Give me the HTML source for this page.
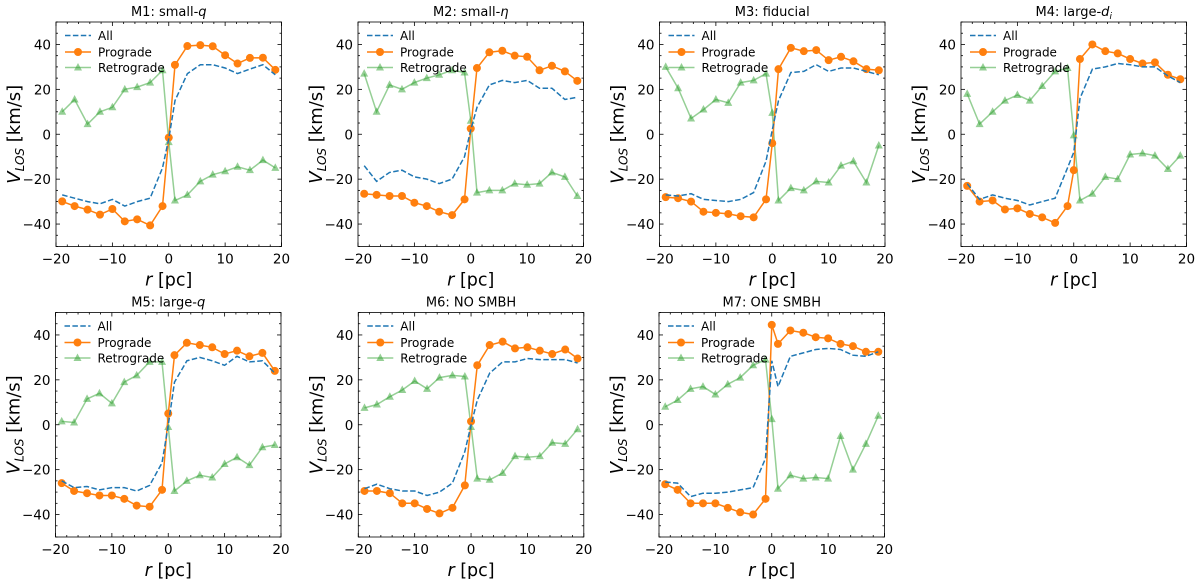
<!DOCTYPE html>
<html><head><meta charset="utf-8"><style>
html,body{margin:0;padding:0;background:#fff;}
svg{display:block;font-family:"DejaVu Sans","Liberation Sans",sans-serif;}
</style></head><body>
<svg id="fig" width="1200" height="579" viewBox="0 0 1200 579"></svg>
<script>
const xs = [-18.9,-16.7,-14.4,-12.2,-10,-7.8,-5.6,-3.3,-1.1,0,1.1,3.3,5.6,7.8,10,12.2,14.4,16.7,18.9];
const titles = ["M1: small-","M2: small-","M3: fiducial","M4: large-","M5: large-","M6: NO SMBH","M7: ONE SMBH"];
const titleItalic = ["q","η","","d","q","",""];
const allM1 = [-27,-28.5,-30,-31,-29,-32,-30,-28.5,-15,-2,15,27,31,31,29.5,27,29,31,26.5];
const proM1 = [-29.9,-32,-33.6,-35.8,-33.3,-38.8,-37.9,-40.6,-32,-1.5,30.9,39.3,39.7,39.2,35.2,31.5,34,34.1,28.7];
const retM1 = [10,15.5,4.5,10,12,20,21,23,28.5,-3.5,-29.5,-27,-21,-18,-16.5,-14.5,-16,-11.5,-15];
const allM2 = [-14,-21,-17,-16,-19,-20,-22,-20,-10,2,12,22,24,23,24,20.5,20.5,15.5,16.5];
const proM2 = [-26.5,-27,-27.5,-27.5,-30.5,-32,-34.5,-36,-29,2.5,29.5,36.5,37.2,35,34.5,28.5,30.5,28,23.8];
const retM2 = [27,10,22,20,23,25,26.5,28.5,27.5,6,-26,-25,-25,-22,-22.5,-22,-17,-19,-27.5];
const allM3 = [-27,-27.5,-26.5,-29,-29.5,-30,-29,-26,-12,2,15,27.5,28,31,28,29.5,29.5,28,26.5];
const proM3 = [-28,-28.5,-30,-34.5,-35,-35.5,-36.5,-37,-29,-4,29,38.5,37,37.5,33,34.5,32.5,29,28.5];
const retM3 = [30,20.5,7,11,15.5,14,23,24,27,9.5,-29.5,-24,-25,-21,-21.5,-14,-12,-21.5,-5];
const allM4 = [-22,-29,-27,-28.5,-29.5,-31.5,-30,-28.5,-15,-8,16,29,30,31.5,31,30,30,26,23];
const proM4 = [-23,-30,-29.5,-33.5,-33,-35.5,-37,-39.5,-32,-16,33.5,40,37,36,33.5,31.5,32,26.5,24.5];
const retM4 = [18,4.5,10,15,17.5,15,21.5,28,29.5,-0.5,-29.5,-26.5,-19,-20,-9,-8.5,-9.5,-15.5,-9.5];
const allM5 = [-25,-28,-27.5,-29,-28,-28,-29.5,-27,-17,0,19,28.5,30,28.5,26.5,30.5,28,28.5,23];
const proM5 = [-26,-29.5,-30.5,-31.5,-31.5,-33,-36,-36.5,-29,5,31,36.5,35.5,34.5,31.5,33,30.5,32,24];
const retM5 = [1.5,1,11.5,14,9.5,19,22,28,28,-1,-29.5,-25,-22.5,-23.5,-17.5,-14.5,-18,-10,-9];
const allM6 = [-28.5,-26.5,-28.5,-29.5,-29.5,-31.5,-30,-26,-12,0,11,23,28,28,29.5,29,29,29,27.5];
const proM6 = [-29.5,-29.5,-30.5,-35,-35,-37.5,-39.5,-37,-27,1.5,26.5,35.5,37,34,34.5,33,31.5,33.5,29.5];
const retM6 = [7.5,9,12.5,15.5,19.5,16,21,22,21.5,-1,-24,-24.5,-21.5,-14,-14.5,-14,-8,-8.5,-2];
const allM7 = [-25.5,-26,-32,-30.5,-30.5,-30,-29,-28,-15,28.5,17,30.5,32,33.5,34,33.5,31,30.5,32.5];
const proM7 = [-26.5,-29,-35,-35,-35,-37,-39,-40,-33,44.5,36,42,41,39,38.5,36,35,32.5,32.5];
const retM7 = [8,11,16,17,13.5,18,21,26.5,29,2.5,-28.5,-22.5,-24,-23.5,-24,-5,-20,-8.5,4];
const xTicks = [-20,-10,0,10,20];
const yTicks = [-40,-20,0,20,40];

const allS=[allM1,allM2,allM3,allM4,allM5,allM6,allM7];
const proS=[proM1,proM2,proM3,proM4,proM5,proM6,proM7];
const retS=[retM1,retM2,retM3,retM4,retM5,retM6,retM7];
const lefts=[56,358,659.5,961,55.5,358.3,659];
const tops=[22,22,22,22,312.5,312.5,312.5];
const W=225.5,H=224.5;
const NS="http://www.w3.org/2000/svg";
const svg=document.getElementById('fig');
function mk(t,a,p){const e=document.createElementNS(NS,t);for(const k in a)e.setAttribute(k,a[k]);(p||svg).appendChild(e);return e;}

for(let i=0;i<7;i++){
  const L=lefts[i],T=tops[i];
  const g=mk('g',{});
  
  
  const sx=v=>L+(v+20)/40*W, sy=v=>T+(50-v)/100*H;
  const tk=mk('g',{stroke:'#000','stroke-width':0.8},g);
  
  
  for(let v=-20;v<=20;v+=2){const len=(v%10===0)?4:2;const x=sx(v);
    mk('line',{x1:x,x2:x,y1:T+H,y2:T+H-len},tk);mk('line',{x1:x,x2:x,y1:T,y2:T+len},tk);}
  for(let v=-50;v<=50;v+=5){const len=(v%20===0)?4:2;const y=sy(v);
    mk('line',{x1:L,x2:L+len,y1:y,y2:y},tk);mk('line',{x1:L+W,x2:L+W-len,y1:y,y2:y},tk);}
  xTicks.forEach(v=>{const t=mk('text',{x:sx(v),y:T+H+17,'text-anchor':'middle','font-size':13.5},g);t.textContent=(v<0?'−':'')+Math.abs(v);
    });
  yTicks.forEach(v=>{const t=mk('text',{x:L-5,y:sy(v)+5,'text-anchor':'end','font-size':13.5},g);t.textContent=(v<0?'−':'')+Math.abs(v);
    });
  const xl=mk('text',{x:L+W/2,y:T+H+39,'text-anchor':'middle','font-size':17.5},g);
  xl.innerHTML='<tspan font-style="italic">r</tspan> [pc]';
  
  const yl=mk('text',{x:0,y:0,'text-anchor':'middle','font-size':18,transform:`translate(${L-36},${T+H/2}) rotate(-90)`},g);
  yl.innerHTML='<tspan font-style="italic">V</tspan><tspan font-style="italic" font-size="12" dy="4">LOS</tspan><tspan dy="-4"> [km/s]</tspan>';
  
  const tt=mk('text',{x:L+W/2,y:T-6,'text-anchor':'middle','font-size':13},g);
  tt.textContent=titles[i];
  if(titleItalic[i]){const s=mk('tspan',{'font-style':'italic'},tt);s.textContent=titleItalic[i];
    if(i===3){const s2=mk('tspan',{'font-style':'italic','font-size':9,dy:3},tt);s2.textContent='i';}}
  
  const ptsOf=a=>a.map((v,k)=>sx(xs[k]).toFixed(1)+','+sy(v).toFixed(1)).join(' ');
  const ret=mk('g',{},g);
  
  mk('polyline',{points:ptsOf(retS[i]),fill:'none',stroke:'#2ca02c','stroke-opacity':0.5,'stroke-width':1.5},ret);
  retS[i].forEach((v,k)=>{const x=sx(xs[k]),y=sy(v);
    const m=mk('polygon',{points:`${x},${y-4.5} ${x-4},${y+3} ${x+4},${y+3}`,fill:'#2ca02c','fill-opacity':0.5},ret);
    });
  const pro=mk('g',{},g);
  
  mk('polyline',{points:ptsOf(proS[i]),fill:'none',stroke:'#ff7f0e','stroke-width':1.5},pro);
  proS[i].forEach((v,k)=>{const m=mk('circle',{cx:sx(xs[k]),cy:sy(v),r:4,fill:'#ff7f0e'},pro);
    });
  const al=mk('polyline',{points:ptsOf(allS[i]),fill:'none',stroke:'#1f77b4','stroke-width':1.5,'stroke-dasharray':'5.5,2.4'},g);
  
  mk('rect',{x:L,y:T,width:W,height:H,fill:'none',stroke:'#000','stroke-width':0.8},g);
  const lg=mk('g',{},g);
  
  const lx=L+9,ly=[T+13.5,T+30,T+45.5];
  mk('line',{x1:lx,x2:lx+26,y1:ly[0],y2:ly[0],stroke:'#1f77b4','stroke-width':1.5,'stroke-dasharray':'5.5,2.4'},lg);
  mk('line',{x1:lx,x2:lx+26,y1:ly[1],y2:ly[1],stroke:'#ff7f0e','stroke-width':1.5},lg);
  mk('circle',{cx:lx+13,cy:ly[1],r:4,fill:'#ff7f0e'},lg);
  mk('line',{x1:lx,x2:lx+26,y1:ly[2],y2:ly[2],stroke:'#2ca02c','stroke-opacity':0.5,'stroke-width':1.5},lg);
  mk('polygon',{points:`${lx+13},${ly[2]-4.5} ${lx+9},${ly[2]+3} ${lx+17},${ly[2]+3}`,fill:'#2ca02c','fill-opacity':0.5},lg);
  ['All','Prograde','Retrograde'].forEach((s,k)=>{const t=mk('text',{x:lx+33,y:ly[k]+4.5,'font-size':12},lg);t.textContent=s;
    });
}
</script>
</body></html>
